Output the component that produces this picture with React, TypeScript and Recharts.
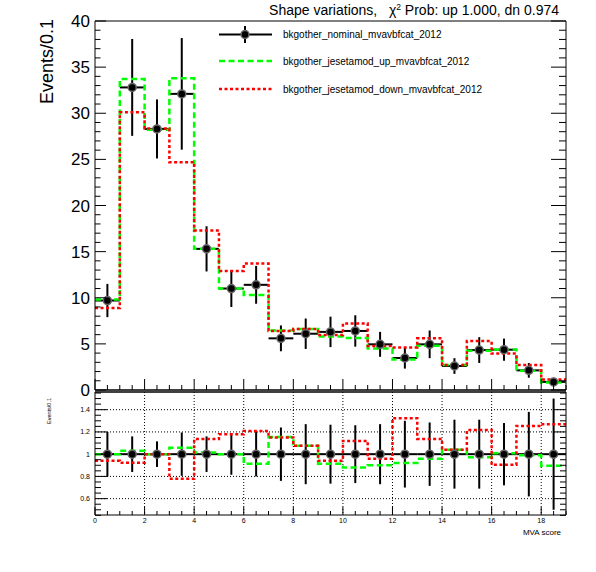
import React from "react";
import { ComposedChart, Line, Scatter, XAxis, YAxis, ErrorBar, CartesianGrid } from "recharts";

// bins of MVA score, width 1, edges 0..19
const binCenters = [0.5, 1.5, 2.5, 3.5, 4.5, 5.5, 6.5, 7.5, 8.5, 9.5, 10.5, 11.5, 12.5, 13.5, 14.5, 15.5, 16.5, 17.5, 18.5];
const nominal = [9.7, 32.8, 28.3, 32.1, 15.3, 11.0, 11.4, 5.6, 6.1, 6.3, 6.4, 4.95, 3.47, 4.95, 2.6, 4.33, 4.37, 2.13, 0.88];
const nominalErr = [1.8, 5.25, 3.2, 6.05, 2.45, 2.0, 2.05, 1.4, 1.65, 1.65, 1.7, 1.35, 1.15, 1.5, 0.85, 1.4, 1.2, 0.8, 0.45];
const jesUp = [9.8, 33.7, 28.2, 33.8, 15.3, 11.0, 10.3, 6.45, 6.6, 5.8, 5.65, 4.5, 3.3, 4.8, 2.7, 4.25, 4.4, 2.1, 0.8];
const jesDown = [8.9, 30.1, 28.35, 24.7, 17.3, 12.9, 13.7, 6.4, 6.6, 5.95, 7.2, 4.77, 4.6, 5.6, 2.7, 5.3, 3.95, 2.7, 1.15];

// ratio panel (variation / nominal)
const ratioUp = [1.0, 1.03, 1.0, 1.057, 1.015, 1.0, 0.913, 1.155, 1.075, 0.913, 0.88, 0.9, 0.92, 0.958, 1.039, 0.973, 1.009, 0.991, 0.895];
const ratioDown = [0.94, 0.922, 1.0, 0.779, 1.137, 1.179, 1.209, 1.149, 1.075, 0.94, 1.119, 0.958, 1.322, 1.137, 1.039, 1.218, 0.904, 1.254, 1.269];
const ratioErr = [0.2, 0.16, 0.115, 0.195, 0.16, 0.185, 0.2, 0.24, 0.27, 0.265, 0.26, 0.27, 0.3, 0.285, 0.31, 0.31, 0.28, 0.38, 0.5];

// axis ticks
const xTicks = Array.from({ length: 39 }, (_, i) => i * 0.5);
const topYTicks = Array.from({ length: 41 }, (_, i) => i);
const ratioYTicks = Array.from({ length: 23 }, (_, i) => Math.round((0.45 + i * 0.05) * 100) / 100);
const gridX = [2, 4, 6, 8, 10, 12, 14, 16, 18];
const gridY = [0.6, 0.8, 1.2, 1.4];

const FONT = '"Liberation Sans", Arial, Helvetica, sans-serif';
const GREEN = "#00ff00";
const RED = "#ff0000";

// histogram outline: one point per bin edge, last bin repeated at the upper edge
const stepData = (vals: number[]) => [
  ...vals.map((v, i) => ({ x: binCenters[i] - 0.5, y: v })),
  { x: binCenters[binCenters.length - 1] + 0.5, y: vals[vals.length - 1] },
];
const pointData = (vals: number[], errs: number[]) =>
  vals.map((v, i) => ({ x: binCenters[i], y: v, ex: 0.5, ey: errs[i] }));

type TickOpts = {
  side: "left" | "right" | "top" | "bottom";
  major: number;
  majorLen: number;
  minorLen: number;
  labels?: boolean;
  fontSize?: number;
  gap?: number;
  fmt?: (v: number) => string;
};

const isMajor = (v: number, step: number) => Math.abs(v / step - Math.round(v / step)) < 1e-6;

// ROOT style ticks: pointing into the frame, labels outside
const makeTick = (o: TickOpts) => (props: any) => {
  const { x, y, payload } = props;
  const v = payload.value as number;
  const major = isMajor(v, o.major);
  const len = major ? o.majorLen : o.minorLen;
  let x2 = x;
  let y2 = y;
  if (o.side === "left") x2 = x + len;
  if (o.side === "right") x2 = x - len;
  if (o.side === "top") y2 = y + len;
  if (o.side === "bottom") y2 = y - len;
  const label = o.fmt ? o.fmt(v) : String(v);
  const gap = o.gap ?? 4;
  return (
    <g>
      <line x1={x} y1={y} x2={x2} y2={y2} stroke="#000" strokeWidth={1} />
      {o.labels && major && o.side === "left" && (
        <text x={x - gap} y={y} dy="0.36em" textAnchor="end" fontSize={o.fontSize} fontFamily={FONT} fill="#000">
          {label}
        </text>
      )}
      {o.labels && major && o.side === "bottom" && (
        <text x={x} y={y + gap} dy="0.72em" textAnchor="middle" fontSize={o.fontSize} fontFamily={FONT} fill="#000">
          {label}
        </text>
      )}
    </g>
  );
};

const marker = (props: any) => (
  <circle cx={props.cx} cy={props.cy} r={4} fill="#000" stroke="#666" strokeWidth={1.5} />
);

const fmtRatio = (v: number) => String(+v.toFixed(1));

const App: React.FC = () => {
  const topPoints = pointData(nominal, nominalErr);
  const ratioPoints = pointData(binCenters.map(() => 1), ratioErr);

  return (
    <div style={{ position: "absolute", left: 0, top: 0, width: 596, height: 572, background: "#fff", fontFamily: FONT }}>
      <div style={{ position: "absolute", left: 0, top: 0 }}>
        <ComposedChart width={596} height={400} margin={{ top: 20, right: 29, bottom: 9, left: 94 }}>
          <XAxis
            xAxisId="b"
            dataKey="x"
            type="number"
            domain={[0, 19]}
            allowDataOverflow
            ticks={xTicks}
            interval={0}
            height={1}
            tickSize={0}
            tickMargin={0}
            tickLine={false}
            axisLine={{ stroke: "#000", strokeWidth: 1.5 }}
            tick={makeTick({ side: "bottom", major: 2, majorLen: 11, minorLen: 5 })}
          />
          <XAxis
            xAxisId="t"
            orientation="top"
            type="number"
            domain={[0, 19]}
            allowDataOverflow
            ticks={xTicks}
            interval={0}
            height={1}
            tickSize={0}
            tickMargin={0}
            tickLine={false}
            axisLine={{ stroke: "#000", strokeWidth: 1 }}
            tick={makeTick({ side: "top", major: 2, majorLen: 10, minorLen: 5 })}
          />
          <YAxis
            yAxisId="l"
            type="number"
            domain={[0, 40]}
            allowDataOverflow
            ticks={topYTicks}
            interval={0}
            width={1}
            tickSize={0}
            tickMargin={0}
            tickLine={false}
            axisLine={{ stroke: "#000", strokeWidth: 1 }}
            tick={makeTick({ side: "left", major: 5, majorLen: 11, minorLen: 5.5, labels: true, fontSize: 17, gap: 5 })}
          />
          <YAxis
            yAxisId="r"
            orientation="right"
            type="number"
            domain={[0, 40]}
            allowDataOverflow
            ticks={topYTicks}
            interval={0}
            width={1}
            tickSize={0}
            tickMargin={0}
            tickLine={false}
            axisLine={{ stroke: "#000", strokeWidth: 1 }}
            tick={makeTick({ side: "right", major: 5, majorLen: 15, minorLen: 7 })}
          />
          <Scatter
            xAxisId="b"
            yAxisId="l"
            data={topPoints}
            dataKey="y"
            shape={marker}
            isAnimationActive={false}
          >
            <ErrorBar dataKey="ex" direction="x" width={0} stroke="#000" strokeWidth={2} />
            <ErrorBar dataKey="ey" direction="y" width={0} stroke="#000" strokeWidth={2} />
          </Scatter>
          <Line
            xAxisId="b"
            yAxisId="l"
            data={stepData(jesUp)}
            dataKey="y"
            type="stepAfter"
            stroke={GREEN}
            strokeWidth={2.5}
            strokeDasharray="6 3.5"
            dot={false}
            isAnimationActive={false}
          />
          <Line
            xAxisId="b"
            yAxisId="l"
            data={stepData(jesDown)}
            dataKey="y"
            type="stepAfter"
            stroke={RED}
            strokeWidth={2.5}
            strokeDasharray="3 2.5"
            dot={false}
            isAnimationActive={false}
          />
        </ComposedChart>
      </div>

      <div style={{ position: "absolute", left: 0, top: 380 }}>
        <ComposedChart width={596} height={150} margin={{ top: 11, right: 29, bottom: 14, left: 94 }}>
          <CartesianGrid
            xAxisId="b"
            yAxisId="l"
            verticalValues={gridX}
            horizontalValues={gridY}
            stroke="#000"
            strokeDasharray="1 2"
          />
          <XAxis
            xAxisId="b"
            dataKey="x"
            type="number"
            domain={[0, 19]}
            allowDataOverflow
            ticks={xTicks}
            interval={0}
            height={1}
            tickSize={0}
            tickMargin={0}
            tickLine={false}
            axisLine={{ stroke: "#000", strokeWidth: 1 }}
            tick={makeTick({ side: "bottom", major: 2, majorLen: 8, minorLen: 4, labels: true, fontSize: 7, gap: 3 })}
          />
          <XAxis
            xAxisId="t"
            orientation="top"
            type="number"
            domain={[0, 19]}
            allowDataOverflow
            ticks={xTicks}
            interval={0}
            height={1}
            tickSize={0}
            tickMargin={0}
            tickLine={false}
            axisLine={{ stroke: "#000", strokeWidth: 1.5 }}
            tick={makeTick({ side: "top", major: 2, majorLen: 8, minorLen: 6 })}
          />
          <YAxis
            yAxisId="l"
            type="number"
            domain={[0.453, 1.559]}
            allowDataOverflow
            ticks={ratioYTicks}
            interval={0}
            width={1}
            tickSize={0}
            tickMargin={0}
            tickLine={false}
            axisLine={{ stroke: "#000", strokeWidth: 1 }}
            tick={makeTick({ side: "left", major: 0.2, majorLen: 12, minorLen: 6, labels: true, fontSize: 7, gap: 5, fmt: fmtRatio })}
          />
          <YAxis
            yAxisId="r"
            orientation="right"
            type="number"
            domain={[0.453, 1.559]}
            allowDataOverflow
            ticks={ratioYTicks}
            interval={0}
            width={1}
            tickSize={0}
            tickMargin={0}
            tickLine={false}
            axisLine={{ stroke: "#000", strokeWidth: 1 }}
            tick={makeTick({ side: "right", major: 0.2, majorLen: 13, minorLen: 6 })}
          />
          <Scatter
            xAxisId="b"
            yAxisId="l"
            data={ratioPoints}
            dataKey="y"
            shape={marker}
            isAnimationActive={false}
          >
            <ErrorBar dataKey="ex" direction="x" width={0} stroke="#000" strokeWidth={2} />
            <ErrorBar dataKey="ey" direction="y" width={0} stroke="#000" strokeWidth={2} />
          </Scatter>
          <Line
            xAxisId="b"
            yAxisId="l"
            data={stepData(ratioUp)}
            dataKey="y"
            type="stepAfter"
            stroke={GREEN}
            strokeWidth={2.5}
            strokeDasharray="6 3.5"
            dot={false}
            isAnimationActive={false}
          />
          <Line
            xAxisId="b"
            yAxisId="l"
            data={stepData(ratioDown)}
            dataKey="y"
            type="stepAfter"
            stroke={RED}
            strokeWidth={2.5}
            strokeDasharray="3 2.5"
            dot={false}
            isAnimationActive={false}
          />
        </ComposedChart>
      </div>

      {/* titles and legend */}
      <svg width={596} height={572} style={{ position: "absolute", left: 0, top: 0, pointerEvents: "none" }}>
        <text x={559} y={15} textAnchor="end" fontSize={14} fontFamily={FONT} style={{ whiteSpace: "pre" }}>
          {"Shape variations,   \u03c7"}
          <tspan dy={-5.5} fontSize={8.5}>2</tspan>
          <tspan dy={5.5}>{" Prob: up 1.000, dn 0.974"}</tspan>
        </text>
        <text x={53} y={19} textAnchor="end" fontSize={18} fontFamily={FONT} transform="rotate(-90 53 19)">
          Events/0.1
        </text>
        <text x={50.5} y={398} textAnchor="end" fontSize={5.5} fontFamily={FONT} transform="rotate(-90 50.5 398)">
          Events/0.1
        </text>
        <text x={561} y={535} textAnchor="end" fontSize={8} fontFamily={FONT}>
          MVA score
        </text>

        <line x1={219} y1={34.5} x2={272} y2={34.5} stroke="#000" strokeWidth={2} />
        <line x1={245} y1={26} x2={245} y2={43} stroke="#000" strokeWidth={2} />
        <circle cx={245} cy={34.5} r={4} fill="#000" stroke="#666" strokeWidth={1.5} />
        <text x={283} y={38} fontSize={10} fontFamily={FONT}>bkgother_nominal_mvavbfcat_2012</text>

        <line x1={219} y1={61} x2={272} y2={61} stroke={GREEN} strokeWidth={2.5} strokeDasharray="6 3.5" />
        <text x={283} y={64.5} fontSize={10} fontFamily={FONT}>bkgother_jesetamod_up_mvavbfcat_2012</text>

        <line x1={219} y1={89} x2={272} y2={89} stroke={RED} strokeWidth={2.5} strokeDasharray="3 2.5" />
        <text x={283} y={92.5} fontSize={10} fontFamily={FONT}>bkgother_jesetamod_down_mvavbfcat_2012</text>
      </svg>
    </div>
  );
};

export default App;
